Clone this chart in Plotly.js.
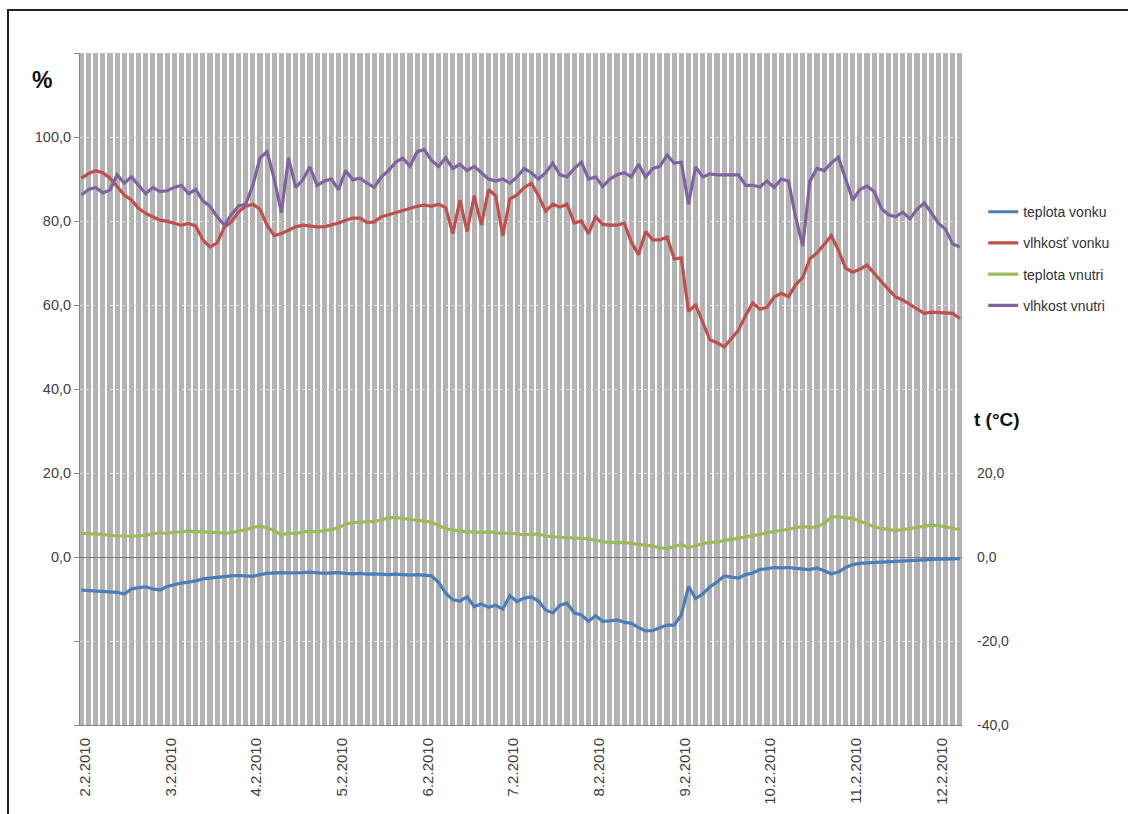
<!DOCTYPE html>
<html>
<head>
<meta charset="utf-8">
<script src="https://cdn.plot.ly/plotly-3.0.1.min.js"></script>
<style>
  html, body { margin: 0; padding: 0; background: #fff; }
  #chart { width: 1128px; height: 814px; }
  #frame { position: absolute; left: 7px; top: 9px; width: 2000px; height: 2000px; border: 2px solid #222; pointer-events: none; }
</style>
</head>
<body>
<div id="chart"></div>
<div id="frame"></div>
<script>
// Series names
const seriesNames = ['teplota vonku', 'vlhkosť vonku', 'teplota vnutri', 'vlhkost vnutri'];

// Sampling: every 2 hours starting 1.2.2010 23:00
const startTime = Date.UTC(2010, 1, 1, 23, 0, 0);
const stepHours = 2;

// teplota vonku (°C)
const teplotaVonku = [-7.9,-8.0,-8.0,-8.2,-8.3,-8.4,-8.8,-7.6,-7.3,-7.1,-7.6,-7.9,-7.0,-6.6,-6.2,-6.0,-5.7,-5.2,-5.0,-4.8,
  -4.7,-4.5,-4.4,-4.5,-4.6,-4.2,-3.9,-3.8,-3.7,-3.8,-3.8,-3.7,-3.6,-3.8,-3.9,-3.8,-3.7,-3.9,-4.0,-3.9,
  -4.1,-4.0,-4.1,-4.2,-4.1,-4.2,-4.3,-4.2,-4.3,-4.5,-6.0,-8.6,-10.2,-10.5,-9.5,-11.8,-11.2,-12.0,-11.5,-12.4,
  -9.2,-10.6,-9.8,-9.5,-10.5,-12.6,-13.3,-11.5,-11.0,-13.3,-13.8,-15.3,-14.0,-15.3,-15.2,-15.0,-15.5,-15.8,-16.8,-17.6,
  -17.5,-16.8,-16.2,-16.2,-13.8,-7.0,-9.9,-8.8,-7.1,-6.0,-4.5,-4.8,-5.0,-4.2,-3.8,-3.0,-2.7,-2.5,-2.6,-2.5,
  -2.7,-2.8,-3.0,-2.6,-3.2,-4.0,-3.6,-2.5,-1.8,-1.5,-1.4,-1.3,-1.2,-1.1,-1.0,-0.9,-0.8,-0.7,-0.6,-0.6,
  -0.5,-0.5,-0.4,-0.4];

// vlhkosť vonku (%)
const vlhkostVonku = [90.2,91.3,92.0,91.5,90.2,88.1,86.2,85.0,83.0,81.8,81.0,80.2,79.9,79.5,79.0,79.4,78.8,75.5,73.8,74.8,
  78.5,79.8,82.2,83.5,84.0,82.8,79.0,76.5,77.0,77.8,78.6,79.0,78.8,78.6,78.6,79.0,79.5,80.2,80.7,80.7,
  79.6,79.8,81.0,81.5,82.0,82.5,83.0,83.5,83.8,83.5,84.0,83.2,77.0,85.0,77.5,86.0,79.0,87.5,86.0,76.5,
  85.3,86.2,88.0,89.0,86.0,82.3,84.0,83.3,84.0,79.5,80.0,77.0,81.0,79.2,79.0,79.0,79.5,75.0,72.0,77.5,
  75.5,75.5,76.2,71.0,71.2,58.5,60.0,56.0,51.7,51.0,50.0,52.0,54.0,57.5,60.5,59.0,59.5,61.9,62.8,62.0,
  64.8,66.5,71.0,72.4,74.5,76.5,73.0,68.8,67.8,68.5,69.5,67.4,65.6,63.7,61.9,61.2,60.2,59.0,58.0,58.3,
  58.2,58.1,58.0,56.8];

// teplota vnutri (°C)
const teplotaVnutri = [5.7,5.5,5.5,5.3,5.2,5.0,5.0,5.0,5.0,5.2,5.5,5.8,5.6,5.9,6.0,6.2,6.0,6.1,5.8,5.9,
  5.6,5.8,6.2,6.5,7.0,7.4,6.9,6.3,5.2,5.8,5.5,6.0,6.1,6.0,6.3,6.5,7.0,7.8,8.2,8.3,
  8.4,8.5,8.8,9.3,9.4,9.2,9.0,8.8,8.5,8.3,7.5,6.8,6.4,6.2,6.0,6.0,5.8,6.0,5.8,5.6,
  5.7,5.5,5.3,5.4,5.5,5.0,4.8,4.7,4.6,4.5,4.5,4.3,4.0,3.6,3.5,3.4,3.5,3.2,3.0,2.8,
  2.6,2.2,2.0,2.5,3.0,2.2,2.8,3.2,3.5,3.6,3.9,4.2,4.5,4.8,5.0,5.4,5.8,6.0,6.3,6.6,
  7.0,7.3,7.0,7.2,8.0,9.5,9.6,9.3,9.2,8.5,7.8,7.2,6.8,6.5,6.3,6.5,6.8,7.0,7.3,7.6,
  7.5,7.2,6.8,6.5];

// vlhkost vnutri (%)
const vlhkostVnutri = [86.2,87.5,88.0,86.7,87.4,91.0,89.0,90.5,88.5,86.5,88.0,87.0,87.2,88.0,88.5,86.5,87.5,84.8,83.5,81.0,
  79.0,81.5,83.6,84.0,88.5,95.0,96.5,90.0,82.0,95.0,88.0,89.8,92.9,88.5,89.5,90.0,87.5,92.0,89.8,90.2,
  89.0,88.0,90.5,92.0,94.0,95.0,93.0,96.5,97.0,94.5,93.0,95.0,92.5,93.5,92.0,93.0,91.5,90.0,89.5,90.0,
  89.0,90.5,92.5,91.5,90.0,91.5,93.8,91.0,90.5,92.5,94.0,90.0,90.5,88.2,90.0,91.0,91.5,90.5,93.5,90.5,
  92.5,93.0,95.7,93.8,94.0,84.0,92.9,90.5,91.2,91.0,91.0,91.0,91.0,88.5,88.5,88.1,89.5,88.0,90.0,89.5,
  81.0,74.0,89.5,92.5,92.0,93.8,95.2,90.0,85.0,87.5,88.3,87.0,83.0,81.5,81.0,82.1,80.5,82.8,84.3,82.0,
  79.5,78.0,74.5,73.8];

// Axis tick values and labels
const leftTickVals = [-40, -20, 0, 20, 40, 60, 80, 100, 120];
const leftTickText = ['', '', '0,0', '20,0', '40,0', '60,0', '80,0', '100,0', ''];
const rightTickVals = [-40, -20, 0, 20];
const rightTickText = ['-40,0', '-20,0', '0,0', '20,0'];

const colors = ['#4a7ebb', '#c0504d', '#9bbb59', '#8064a2'];

function timeAt(i) {
  return new Date(startTime + i * stepHours * 3600000).toISOString().slice(0, 19).replace('T', ' ');
}
const times = vlhkostVnutri.map((_, i) => timeAt(i));

const allSeries = [teplotaVonku, vlhkostVonku, teplotaVnutri, vlhkostVnutri];
const axesFor = ['y2', 'y', 'y2', 'y'];

const traces = allSeries.map((vals, k) => ({
  x: times,
  y: vals,
  type: 'scatter',
  mode: 'lines',
  name: seriesNames[k],
  yaxis: axesFor[k],
  legendgroup: 'g' + k,
  line: { color: colors[k], width: 3.2 },
  hoverinfo: 'x+y+name'
}));

const layout = {
  width: 1128,
  height: 814,
  margin: { l: 80, r: 166, t: 53, b: 89 },
  paper_bgcolor: '#ffffff',
  plot_bgcolor: '#b3b3b3',
  font: { family: 'Liberation Sans, Arial, sans-serif', size: 14, color: '#404040' },
  showlegend: true,
  legend: {
    x: 1.024, xanchor: 'left', y: 0.787, yanchor: 'top',
    font: { family: 'Liberation Sans, Arial, sans-serif', size: 14, color: '#333' },
    bgcolor: 'rgba(0,0,0,0)',
    borderwidth: 0,
    tracegroupgap: 10
  },
  xaxis: {
    type: 'date',
    range: ['2010-02-01 22:36', '2010-02-12 05:36'],
    tickmode: 'linear',
    tick0: '2010-02-02',
    dtick: 86400000,
    tickformat: '%-d.%-m.%Y',
    tickangle: -90,
    tickfont: { size: 15, color: '#404040' },
    showgrid: true,
    gridcolor: '#ffffff',
    gridwidth: 2,
    minor: { tick0: '2010-02-02', dtick: 7200000, showgrid: true, gridcolor: '#ffffff', gridwidth: 2 },
    showline: true,
    linecolor: '#868686',
    linewidth: 1,
    ticks: '',
    zeroline: false,
    ticklabelstandoff: 6
  },
  yaxis: {
    range: [-40, 120],
    tickmode: 'array',
    tickvals: leftTickVals,
    ticktext: leftTickText,
    showgrid: true,
    gridcolor: '#dedede',
    griddash: 'dot',
    gridwidth: 1,
    zeroline: true,
    zerolinecolor: '#7a7a7a',
    zerolinewidth: 1,
    showline: true,
    linecolor: '#868686',
    ticks: 'outside',
    ticklen: 5,
    tickcolor: '#868686',
    tickfont: { size: 14.5, color: '#404040' }
  },
  yaxis2: {
    range: [-40, 120],
    overlaying: 'y',
    side: 'right',
    tickmode: 'array',
    tickvals: rightTickVals,
    ticktext: rightTickText,
    showgrid: false,
    zeroline: false,
    showline: false,
    ticks: '',
    ticklabelstandoff: 14,
    tickfont: { size: 14, color: '#404040' }
  },
  annotations: [
    { text: '<b>%</b>', xref: 'paper', yref: 'paper', x: -0.043, y: 1.0 - (80 - 53) / 672, xanchor: 'center', yanchor: 'middle', showarrow: false, font: { size: 23, color: '#111', family: 'Liberation Sans, Arial, sans-serif' } },
    { text: '<b>t (°C)</b>', xref: 'paper', yref: 'paper', x: (997 - 80) / 882, y: 1.0 - (420 - 53) / 672, xanchor: 'center', yanchor: 'middle', showarrow: false, font: { size: 19, color: '#111', family: 'Liberation Sans, Arial, sans-serif' } }
  ]
};

Plotly.newPlot('chart', traces, layout, { displayModeBar: false, responsive: false });
</script>
</body>
</html>
